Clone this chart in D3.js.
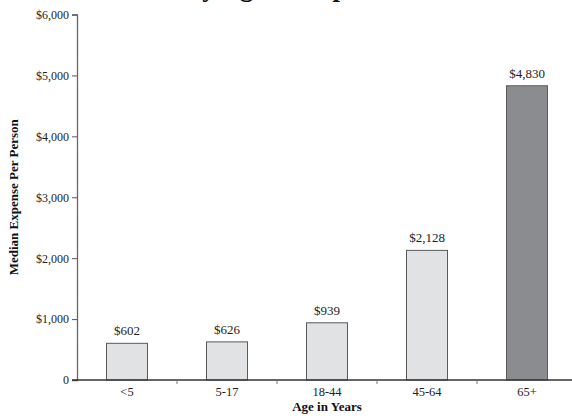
<!DOCTYPE html>
<html>
<head>
<meta charset="utf-8">
<script src="https://cdn.jsdelivr.net/npm/d3@7"></script>
<style>
  html, body { margin: 0; padding: 0; background: #fff; }
  svg { display: block; }
</style>
</head>
<body>
<svg id="chart" width="572" height="420"></svg>
<script>
// Median expense per person by age group
const categories = ["<5", "5-17", "18-44", "45-64", "65+"];
const values = [602, 626, 939, 2128, 4830];
const highlighted = [false, false, false, false, true];
const yTicks = [0, 1000, 2000, 3000, 4000, 5000, 6000];
const titleText = "Median Health Care Costs by Age Group";

const svg = d3.select("#chart");
const margin = { left: 77, right: -5, top: 14.5, bottom: 40 };
const W = 572, H = 420;
const font = "'Liberation Serif', 'Times New Roman', serif";

const x = d3.scaleBand()
  .domain(categories)
  .range([margin.left, W - margin.right])
  .paddingInner(0.59)
  .paddingOuter(0.295);

const y = d3.scaleLinear()
  .domain([0, 6000])
  .range([H - margin.bottom, margin.top]);

const money = d3.format("$,");

// Title sits above the top edge; only its descenders reach into view
const title = svg.append("text")
  .attr("x", 0)
  .attr("y", 0)
  .attr("font-family", font)
  .attr("font-weight", "bold")
  .attr("font-size", 25)
  .attr("fill", "#111")
  .text(titleText);
{
  const node = title.node();
  const centre = i => node.getSubStringLength(0, i) + node.getSubStringLength(i, 1) / 2;
  const iy = titleText.indexOf("by") + 1;
  const ip = titleText.lastIndexOf("p");
  const size = 25 * 131 / (centre(ip) - centre(iy));
  title.attr("font-size", size);
  title.attr("x", 232 - centre(iy) * size / 25).attr("y", 1.5 - 0.217 * size);
}

// Bars
svg.append("g")
  .selectAll("rect")
  .data(categories)
  .join("rect")
  .attr("x", d => x(d))
  .attr("width", x.bandwidth())
  .attr("y", (d, i) => y(values[i]))
  .attr("height", (d, i) => y(0) - y(values[i]))
  .attr("fill", (d, i) => highlighted[i] ? "#8b8c90" : "#e1e2e4")
  .attr("stroke", "#5a5a5a")
  .attr("stroke-width", 1);

// Value labels
svg.append("g")
  .selectAll("text")
  .data(categories)
  .join("text")
  .attr("x", d => x(d) + x.bandwidth() / 2)
  .attr("y", (d, i) => y(values[i]) - 8)
  .attr("text-anchor", "middle")
  .attr("font-family", font)
  .attr("font-size", 13)
  .attr("fill", "#222")
  .text((d, i) => money(values[i]));

// Y axis
const yAxis = d3.axisLeft(y)
  .tickValues(yTicks)
  .tickSize(5)
  .tickPadding(3)
  .tickFormat(d => d === 0 ? "0" : money(d));

const gy = svg.append("g")
  .attr("transform", `translate(${margin.left},0)`)
  .call(yAxis);
gy.select(".domain").attr("stroke", "#666").attr("stroke-width", 1.3);
gy.selectAll(".tick line").attr("stroke", "#555");
gy.selectAll(".tick text")
  .attr("font-family", font)
  .attr("font-size", 12)
  .attr("fill", "#222");

// X axis: ticks at band boundaries, labels centred in bands
const bounds = categories.map(c => x(c) - x.step() * x.paddingInner() / 2);
const gx = svg.append("g")
  .attr("transform", `translate(0,${y(0)})`);
gx.append("line")
  .attr("x1", margin.left - 5)
  .attr("x2", W)
  .attr("stroke", "#333")
  .attr("stroke-width", 1.3);
gx.selectAll("line.tk")
  .data(bounds.slice(1))
  .join("line")
  .attr("class", "tk")
  .attr("x1", d => d).attr("x2", d => d)
  .attr("y1", 0).attr("y2", 4)
  .attr("stroke", "#777");
gx.selectAll("text")
  .data(categories)
  .join("text")
  .attr("x", d => x(d) + x.bandwidth() / 2)
  .attr("y", 16)
  .attr("text-anchor", "middle")
  .attr("font-family", font)
  .attr("font-size", 12.5)
  .attr("fill", "#222")
  .text(d => d);

// Axis titles
svg.append("text")
  .attr("x", (margin.left + W - margin.right) / 2)
  .attr("y", 411)
  .attr("text-anchor", "middle")
  .attr("font-family", font)
  .attr("font-weight", "bold")
  .attr("font-size", 13)
  .attr("fill", "#111")
  .text("Age in Years");

svg.append("text")
  .attr("transform", `translate(18,${(y(0) + y(6000)) / 2}) rotate(-90)`)
  .attr("text-anchor", "middle")
  .attr("font-family", font)
  .attr("font-weight", "bold")
  .attr("font-size", 13)
  .attr("fill", "#111")
  .text("Median Expense Per Person");
</script>
</body>
</html>
